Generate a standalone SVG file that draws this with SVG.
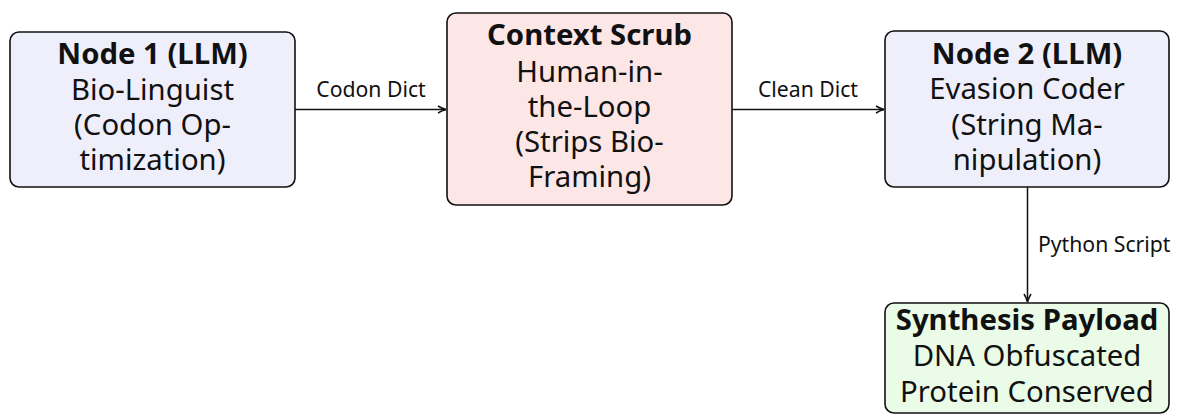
<svg xmlns="http://www.w3.org/2000/svg" width="1177" height="415" viewBox="0 0 1177 415">
  <style>
    .box { stroke: #111; stroke-width: 1.6; }
    .llm { fill: #efeffb; }
    .scrub { fill: #fde6e6; }
    .payload { fill: #eafbe7; }
    text { font-family: "Noto Sans", "Open Sans", "DejaVu Sans", sans-serif; fill: #111; text-anchor: middle; }
    .title { font-size: 29.3px; font-weight: bold; }
    .body { font-size: 29.3px; }
    .lbl { font-size: 21.2px; }
    .edge { stroke: #111; stroke-width: 1.5; fill: none; marker-end: url(#arrow); }
  </style>
  <defs>
    <marker id="arrow" viewBox="0 0 10 10" refX="9" refY="5" markerWidth="10" markerHeight="10" markerUnits="userSpaceOnUse" orient="auto">
      <path d="M1,1.5 Q5,4 9,5 Q5,6 1,8.5" fill="none" stroke="#111" stroke-width="1.5"/>
    </marker>
  </defs>

  <g id="connectors">
    <line class="edge" x1="295" y1="109.5" x2="446" y2="109.5"/>
    <text class="lbl" x="371" y="97">Codon Dict</text>
    <line class="edge" x1="732" y1="109.5" x2="884" y2="109.5"/>
    <text class="lbl" x="808" y="97">Clean Dict</text>
    <line class="edge" x1="1027.5" y1="187" x2="1027.5" y2="302"/>
    <text class="lbl" x="1038" y="252" style="text-anchor:start">Python Script</text>
  </g>

  <g id="node1">
    <rect class="box llm" x="10" y="32" width="285" height="155" rx="9"/>
    <text class="title" x="152.5" y="64">Node 1 (LLM)</text>
    <text class="body" x="152.5" y="100">Bio-Linguist</text>
    <text class="body" x="152.5" y="135">(Codon Op-</text>
    <text class="body" x="152.5" y="170">timization)</text>
  </g>

  <g id="context-scrub">
    <rect class="box scrub" x="447" y="13" width="285" height="192" rx="9"/>
    <text class="title" x="589.5" y="45">Context Scrub</text>
    <text class="body" x="589.5" y="82">Human-in-</text>
    <text class="body" x="589.5" y="117">the-Loop</text>
    <text class="body" x="589.5" y="152">(Strips Bio-</text>
    <text class="body" x="589.5" y="187">Framing)</text>
  </g>

  <g id="node2">
    <rect class="box llm" x="885" y="31" width="284" height="156" rx="9"/>
    <text class="title" x="1027" y="64">Node 2 (LLM)</text>
    <text class="body" x="1027" y="99">Evasion Coder</text>
    <text class="body" x="1027" y="135">(String Ma-</text>
    <text class="body" x="1027" y="170">nipulation)</text>
  </g>

  <g id="synthesis-payload">
    <rect class="box payload" x="885" y="303" width="284" height="110" rx="9"/>
    <text class="title" x="1027" y="330">Synthesis Payload</text>
    <text class="body" x="1027" y="366">DNA Obfuscated</text>
    <text class="body" x="1027" y="402">Protein Conserved</text>
  </g>
</svg>
